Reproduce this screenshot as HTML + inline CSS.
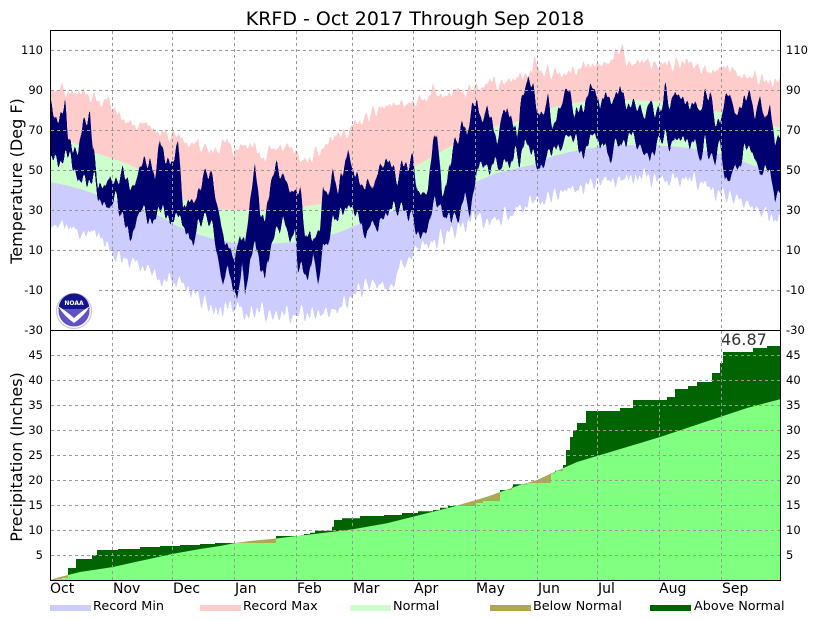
<!DOCTYPE html>
<html><head><meta charset="utf-8">
<style>
html,body{margin:0;padding:0;background:#fff;}
svg{display:block;}
text{font-family:"DejaVu Sans","Liberation Sans",sans-serif;fill:#000;}
</style></head>
<body>
<svg width="830" height="620" viewBox="0 0 830 620" xmlns="http://www.w3.org/2000/svg">
<defs>
<clipPath id="tempclip"><rect x="50" y="30" width="731" height="300.5"/></clipPath>
<filter id="jagA" filterUnits="userSpaceOnUse" x="0" y="0" width="830" height="620" color-interpolation-filters="sRGB">
<feTurbulence type="fractalNoise" baseFrequency="0.28 0.0005" numOctaves="1" seed="3" result="t"/>
<feColorMatrix in="t" type="matrix" values="1 0 0 0 0  0 0 0 0 0.5  0 0 0 0 0  0 0 0 0 1" result="d"/>
<feDisplacementMap in="SourceGraphic" in2="d" scale="28" xChannelSelector="G" yChannelSelector="R"/>
</filter>
<filter id="jagB" filterUnits="userSpaceOnUse" x="0" y="0" width="830" height="620" color-interpolation-filters="sRGB">
<feTurbulence type="fractalNoise" baseFrequency="0.28 0.0005" numOctaves="1" seed="11" result="t"/>
<feColorMatrix in="t" type="matrix" values="1 0 0 0 0  0 0 0 0 0.5  0 0 0 0 0  0 0 0 0 1" result="d"/>
<feDisplacementMap in="SourceGraphic" in2="d" scale="40" xChannelSelector="G" yChannelSelector="R"/>
</filter>
<filter id="jagC" filterUnits="userSpaceOnUse" x="0" y="0" width="830" height="620" color-interpolation-filters="sRGB">
<feTurbulence type="fractalNoise" baseFrequency="0.28 0.0005" numOctaves="1" seed="27" result="t"/>
<feColorMatrix in="t" type="matrix" values="1 0 0 0 0  0 0 0 0 0.5  0 0 0 0 0  0 0 0 0 1" result="d"/>
<feDisplacementMap in="SourceGraphic" in2="d" scale="36" xChannelSelector="G" yChannelSelector="R"/>
</filter>
<mask id="lowmask" maskUnits="userSpaceOnUse" x="0" y="0" width="830" height="620">
<rect x="0" y="0" width="830" height="620" fill="#fff"/>
<polygon fill="#000" points="50,163 55,157 60,163 65,160 70,153 75,173 80,183 85,177 90,183 95,180 100,200 107,210 112,203 117,197 122,220 127,227 132,240 137,217 142,210 147,217 152,223 157,213 163,207 170,223 175,217 180,220 187,233 193,243 198,223 203,220 208,217 213,230 218,257 223,287 228,267 233,287 237,300 242,260 245,300 250,260 255,240 260,267 265,277 270,247 277,233 283,220 290,240 295,227 298,267 303,273 308,277 313,250 318,287 323,247 328,247 333,217 338,220 343,213 348,203 353,207 358,213 363,233 368,233 373,220 378,230 383,217 388,213 393,207 398,210 403,210 410,213 415,227 420,237 425,230 430,220 435,197 440,210 445,217 450,213 455,220 460,213 465,197 470,217 475,183 480,160 485,167 490,173 495,157 500,170 505,160 510,167 515,153 520,160 525,140 530,150 535,160 540,170 545,160 550,150 555,147 560,153 565,140 570,133 575,140 580,153 585,150 590,140 595,133 600,147 605,143 610,163 615,140 620,147 625,140 630,133 635,140 640,147 645,153 650,163 655,147 660,140 665,137 670,147 675,140 680,140 685,140 690,147 695,137 700,160 705,143 710,157 715,160 720,140 725,183 730,177 735,163 740,167 745,150 750,147 755,157 760,177 765,167 770,173 775,200 781,185 781,340 50,340"/>
</mask>
<clipPath id="actclip">
<polygon points="50,580 56,580 56,579 62,579 62,578 68,578 68,568 76,568 76,559 92,559 92,555 97,555 97,550 118,550 118,549 140,549 140,547 160,547 160,546 180,546 180,545 200,545 200,544 215,544 215,543 276,543 276,536 304,536 304,534 310,534 310,532.7 315,532.7 315,530.7 332,530.7 332,526.7 334,526.7 334,520 342,520 342,518.3 360,518.3 360,516 384,516 384,515 402,515 402,513 418,513 418,511.3 433,511.3 433,510 440,510 440,507.7 448,507.7 448,506 476,506 476,503 483,503 483,500.7 500,500.7 500,490 512,490 512,486.7 513,486.7 513,484.3 527,484.3 527,483 551,483 551,473.3 555,473.3 555,470.7 563,470.7 563,465 566,465 566,450 570,450 570,437 573,437 573,430 577,430 577,423 586,423 586,411 620,411 620,408 633,408 633,400 667,400 667,397 675,397 675,389 688,389 688,386 697,386 697,382 712,382 712,373 720,373 720,363 723,363 723,352 753,352 753,348 767,348 767,346 781,346 781,580"/>
</clipPath>
</defs>

<rect x="0" y="0" width="830" height="620" fill="#fff"/>

<text x="415" y="25" font-size="19" text-anchor="middle">KRFD - Oct 2017 Through Sep 2018</text>

<!-- Temperature panel -->
<g clip-path="url(#tempclip)">
<g filter="url(#jagA)">
<polygon fill="#ffcccc" points="50,88 56,90 60,88 67,92 75,93 83,93 88,96 93,98 100,101 103,102 108,100 113,107 117,115 123,120 130,122 137,126 143,122 150,125 155,130 160,137 165,131 170,136 177,133 183,140 190,147 195,140 200,148 205,145 210,150 217,153 222,145 227,138 232,148 237,152 243,146 250,143 256,150 263,158 270,150 276,147 283,148 290,146 295,150 300,160 307,162 315,152 323,150 330,140 340,133 347,135 352,127 357,123 365,118 373,112 380,108 390,105 400,105 410,103 418,100 423,98 430,97 433,85 437,95 445,97 450,93 457,90 465,92 473,88 480,88 490,80 497,85 505,83 512,80 517,77 523,73 528,78 532,72 534,58 537,58 540,75 545,70 550,73 560,73 570,73 580,68 590,64 600,65 610,62 615,55 620,47 623,52 630,67 637,62 645,60 655,65 663,63 670,66 680,62 690,63 700,68 710,73 720,68 728,66 735,70 740,78 747,78 755,75 760,80 767,82 773,80 781,83 790,83 790,345 40,345 40,88"/>
</g>
<polygon fill="#ccffcc" points="50,134 60,137 70,141 80,146 93,152 105,156 117,160 130,165 140,170 150,175 160,180 170,189 180,197 190,203 200,207 210,208 220,209 234,210 250,210 265,210 283,209 300,207 315,205 330,202 345,199 357,197 372,191 390,183 405,173 423,162 440,152 457,143 475,135 490,128 505,124 523,120 540,115 550,108 565,105 580,102 595,101 613,100 630,100 647,101 665,102 680,103 695,106 713,110 730,115 747,120 765,124 781,128 781,345 50,345"/>
<polygon fill="#ccccff" points="50,182 65,185 80,189 95,194 110,199 117,201 130,205 150,211 165,219 177,226 190,231 200,235 210,238 220,240 234,243 250,244 267,244 283,243 300,242 310,240 323,237 340,232 357,225 375,218 390,212 405,207 423,203 440,197 450,193 463,188 473,183 485,178 497,173 510,170 523,167 540,163 550,157 565,153 580,150 597,147 613,145 630,145 647,146 665,146 680,147 697,149 713,152 730,157 747,163 765,170 781,177 781,345 50,345"/>
<g filter="url(#jagB)">
<polygon fill="#ffffff" points="40,223 50,223 60,225 70,228 83,233 100,235 106,242 110,253 117,258 123,260 130,262 140,267 150,270 155,278 160,283 167,282 177,280 185,288 193,293 200,300 207,305 217,313 225,305 237,307 245,312 250,317 257,310 265,313 273,318 283,313 290,315 300,312 310,317 320,312 333,313 340,307 350,300 360,290 367,280 375,285 390,287 400,267 413,253 425,247 433,242 443,237 453,232 463,227 470,220 477,217 487,222 497,220 507,215 517,210 530,203 540,200 550,197 560,193 570,190 585,187 597,183 610,180 630,177 645,177 663,180 680,178 690,180 700,184 710,188 717,193 727,196 737,200 745,203 755,208 763,213 770,215 775,220 781,220 790,220 790,360 40,360"/>
</g>
<g filter="url(#jagC)">
<polygon fill="#00006e" mask="url(#lowmask)" points="50,103 55,120 60,115 65,107 68,137 73,147 78,153 83,123 90,113 93,153 98,180 105,190 110,175 115,187 120,173 127,178 133,190 140,167 150,160 155,177 160,140 165,157 170,163 175,157 178,142 183,207 190,200 197,197 203,177 210,170 215,193 220,217 225,247 230,247 235,260 240,230 245,247 250,200 255,163 260,213 265,220 270,183 277,167 283,177 290,190 295,188 300,190 305,237 310,230 315,240 320,227 323,190 328,197 333,170 338,193 343,173 348,147 352,167 357,172 362,190 367,180 372,190 377,173 382,167 387,158 392,167 397,180 402,167 407,163 413,160 418,193 423,193 428,187 433,143 437,130 442,197 447,180 452,150 457,140 462,123 467,137 472,107 477,103 482,120 487,110 492,120 497,143 502,113 507,110 512,120 517,140 520,103 525,90 528,77 533,90 537,107 540,117 545,107 548,97 553,127 560,110 565,93 570,88 575,120 580,107 585,103 590,88 595,90 600,107 605,93 610,100 615,97 620,88 625,98 630,107 635,103 640,107 645,117 650,103 655,110 660,113 665,90 670,105 675,93 680,97 685,103 690,107 695,100 700,110 705,97 710,92 715,120 720,123 725,100 730,92 735,113 740,107 745,103 750,90 755,117 760,97 765,120 770,107 775,143 781,130 781,330 50,330"/>
</g>
</g>

<!-- Precip panel -->
<polygon fill="#b0a850" points="50,580 60,577 68,575 80,572 100,569 113,567 140,561 172,554 200,549 220,546 235,543 250,541 276,538.5 297,536 333,531.7 353,529.3 387,523.3 420,515 453,506.7 487,496.7 520,485 537,480 550,474 577,462 597,456 627,447 660,437 693,426 720,417 747,408 781,399 781,580"/>
<polygon fill="#006400" points="50,580 56,580 56,579 62,579 62,578 68,578 68,568 76,568 76,559 92,559 92,555 97,555 97,550 118,550 118,549 140,549 140,547 160,547 160,546 180,546 180,545 200,545 200,544 215,544 215,543 276,543 276,536 304,536 304,534 310,534 310,532.7 315,532.7 315,530.7 332,530.7 332,526.7 334,526.7 334,520 342,520 342,518.3 360,518.3 360,516 384,516 384,515 402,515 402,513 418,513 418,511.3 433,511.3 433,510 440,510 440,507.7 448,507.7 448,506 476,506 476,503 483,503 483,500.7 500,500.7 500,490 512,490 512,486.7 513,486.7 513,484.3 527,484.3 527,483 551,483 551,473.3 555,473.3 555,470.7 563,470.7 563,465 566,465 566,450 570,450 570,437 573,437 573,430 577,430 577,423 586,423 586,411 620,411 620,408 633,408 633,400 667,400 667,397 675,397 675,389 688,389 688,386 697,386 697,382 712,382 712,373 720,373 720,363 723,363 723,352 753,352 753,348 767,348 767,346 781,346 781,580"/>
<polygon fill="#80ff80" clip-path="url(#actclip)" points="50,580 60,577 68,575 80,572 100,569 113,567 140,561 172,554 200,549 220,546 235,543 250,541 276,538.5 297,536 333,531.7 353,529.3 387,523.3 420,515 453,506.7 487,496.7 520,485 537,480 550,474 577,462 597,456 627,447 660,437 693,426 720,417 747,408 781,399 781,580"/>

<!-- Gridlines -->
<g stroke="#999" stroke-width="1" stroke-dasharray="3,3" fill="none">
<path d="M112.5,31V580 M172.5,31V580 M234.5,31V580 M296.5,31V580 M352.5,31V580 M413.5,31V580 M475.5,31V580 M537.5,31V580 M597.5,31V580 M659.5,31V580 M721.5,31V580"/>
<path d="M51,50.5H780 M51,90.5H780 M51,130.5H780 M51,170.5H780 M51,210.5H780 M51,250.5H780 M51,290.5H780"/>
<path d="M51,355.5H780 M51,380.5H780 M51,405.5H780 M51,430.5H780 M51,455.5H780 M51,480.5H780 M51,505.5H780 M51,530.5H780 M51,555.5H780"/>
</g>

<!-- NOAA logo -->
<rect x="51" y="285" width="45" height="45" fill="#fff"/>
<circle cx="74" cy="311" r="17.5" fill="#fff" stroke="#c8c8d8" stroke-width="1.2"/>
<circle cx="74" cy="311" r="15.5" fill="#5e52c6"/>
<path d="M58.5,309 A15.5,15.5 0 0 1 89.5,309 Z" fill="#14148a"/>
<path d="M58,306 Q66,311 74,318 Q82,311 90,306 Q84,316 74,323 Q64,316 58,306 Z" fill="#fff"/>
<text x="74" y="305" font-size="6" font-weight="bold" text-anchor="middle" style="fill:#fff">NOAA</text>

<!-- Frame -->
<rect x="50.5" y="30.5" width="730" height="550" fill="none" stroke="#000" stroke-width="1"/>
<line x1="50" y1="330.5" x2="781" y2="330.5" stroke="#000" stroke-width="1"/>

<!-- Left tick labels -->
<g font-size="11.5" text-anchor="end">
<text x="43" y="54">110</text>
<text x="43" y="94">90</text>
<text x="43" y="134">70</text>
<text x="43" y="174">50</text>
<text x="43" y="214">30</text>
<text x="43" y="254">10</text>
<text x="43" y="294">-10</text>
<text x="43" y="334">-30</text>
<text x="43" y="359">45</text>
<text x="43" y="384">40</text>
<text x="43" y="409">35</text>
<text x="43" y="434">30</text>
<text x="43" y="459">25</text>
<text x="43" y="484">20</text>
<text x="43" y="509">15</text>
<text x="43" y="534">10</text>
<text x="43" y="559">5</text>
</g>
<!-- Right tick labels -->
<g font-size="11.5" text-anchor="start">
<text x="786" y="54">110</text>
<text x="786" y="94">90</text>
<text x="786" y="134">70</text>
<text x="786" y="174">50</text>
<text x="786" y="214">30</text>
<text x="786" y="254">10</text>
<text x="786" y="294">-10</text>
<text x="786" y="334">-30</text>
<text x="786" y="359">45</text>
<text x="786" y="384">40</text>
<text x="786" y="409">35</text>
<text x="786" y="434">30</text>
<text x="786" y="459">25</text>
<text x="786" y="484">20</text>
<text x="786" y="509">15</text>
<text x="786" y="534">10</text>
<text x="786" y="559">5</text>
</g>

<!-- Month labels -->
<g font-size="14">
<text x="50" y="593">Oct</text>
<text x="113" y="593">Nov</text>
<text x="173" y="593">Dec</text>
<text x="235" y="593">Jan</text>
<text x="297" y="593">Feb</text>
<text x="353" y="593">Mar</text>
<text x="414" y="593">Apr</text>
<text x="476" y="593">May</text>
<text x="538" y="593">Jun</text>
<text x="598" y="593">Jul</text>
<text x="659" y="593">Aug</text>
<text x="722" y="593">Sep</text>
</g>

<!-- Axis titles -->
<text font-size="16" text-anchor="middle" transform="translate(22,181) rotate(-90)">Temperature (Deg F)</text>
<text font-size="16" text-anchor="middle" transform="translate(22,457) rotate(-90)">Precipitation (Inches)</text>

<!-- Total label -->
<text x="721" y="345" font-size="16" style="fill:#333">46.87</text>

<!-- Legend -->
<rect x="50" y="605" width="41" height="6" fill="#ccccff"/>
<rect x="200" y="605" width="41" height="6" fill="#ffcccc"/>
<rect x="350" y="605" width="41" height="6" fill="#ccffcc"/>
<rect x="490" y="605" width="41" height="6" fill="#b0a850"/>
<rect x="650" y="605" width="41" height="6" fill="#006400"/>
<g font-size="12.8">
<text x="93" y="610">Record Min</text>
<text x="243" y="610">Record Max</text>
<text x="393" y="610">Normal</text>
<text x="533" y="610">Below Normal</text>
<text x="694" y="610">Above Normal</text>
</g>
</svg>
</body></html>
